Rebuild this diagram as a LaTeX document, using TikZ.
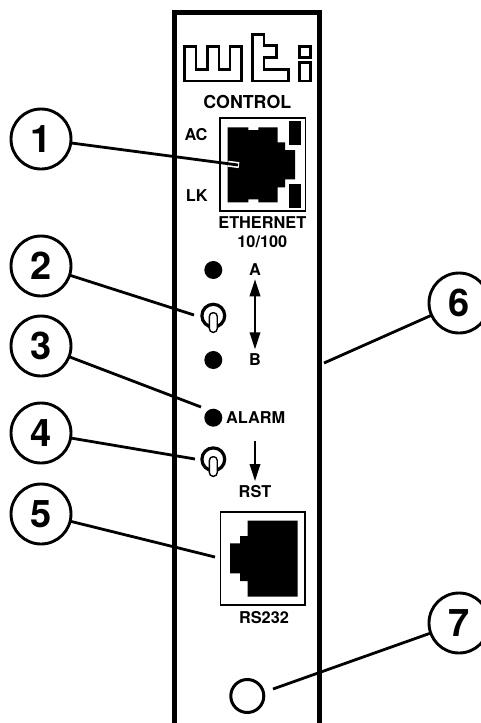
\documentclass[tikz,border=0pt]{standalone}
\usepackage{fontspec}
\setmainfont{TeX Gyre Heros}
\usetikzlibrary{arrows.meta}
\tikzset{
  x=1pt,y=-1pt,
  callout/.style={circle,draw=black,line width=2.9pt,minimum size=60pt,inner sep=0pt,outer sep=0pt,font=\fontsize{38}{38}\selectfont\bfseries},
  leader/.style={line width=2.8pt,black},
  wall/.style={line width=5.4pt,black},
  logoline/.style={line width=2.7pt,black,line join=miter},
  portbox/.style={line width=1.6pt,black},
  solidpart/.style={fill=black,draw=none},
  lamp/.style={circle,fill=black,minimum size=18pt,inner sep=0pt,outer sep=0pt},
  lbl/.style={inner sep=0pt,font=\fontsize{16.3}{16.3}\selectfont\bfseries},
  bigtip/.style={-{Triangle[length=17pt,width=10.5pt]}},
  shaft/.style={line width=1.9pt,black},
}
\begin{document}
\begin{tikzpicture}
\useasboundingbox (0,0) rectangle (480,723);
% panel
\draw[wall,line join=miter] (174.3,723) -- (174.3,12.5) -- (319.2,12.5) -- (319.2,723);
% logo
\draw[logoline] (184.7,46.3) -- (196,46.3) -- (196,69.3) -- (207.3,69.3) -- (207.3,46.3) -- (219,46.3) -- (219,69.3) -- (230,69.3) -- (230,46.3) -- (241.3,46.3) -- (241.3,81) -- (184.7,81) -- cycle;
\draw[logoline] (252.7,34.3) -- (264,34.3) -- (264,45.7) -- (276.7,45.7) -- (276.7,57.3) -- (264,57.3) -- (264,69.3) -- (288.3,69.3) -- (288.3,81) -- (252.7,81) -- cycle;
\draw[logoline] (299.3,46.3) rectangle (310.7,57.3);
\draw[logoline] (299.3,62.7) rectangle (310.7,81);
\node[lbl,font=\fontsize{17.8}{17.8}\selectfont\bfseries] (control) at (247.3,101.7) {CONTROL};
% ethernet
\draw[portbox] (220,118) rectangle (305.5,211);
\fill[solidpart] (227.7,127.3) -- (248.3,127.3) -- (248.3,130) -- (258.3,130) -- (258.3,127.3) -- (277.7,127.3) -- (277.7,142.3) -- (285,142.3) -- (285,150) -- (295,150) -- (295,179.3) -- (285,179.3) -- (285,187.3) -- (277.7,187.3) -- (277.7,202.3) -- (258.3,202.3) -- (258.3,199.3) -- (248.3,199.3) -- (248.3,202.3) -- (227.7,202.3) -- cycle;
\fill[solidpart] (289,120.7) rectangle (301,144.7);
\fill[solidpart] (289,184) rectangle (301,208);
\node[lbl] (ac) at (196,135) {AC};
\node[lbl] (lk) at (196.7,195.7) {LK};
\node[lbl] (eth) at (262.3,222.3) {ETHERNET};
\node[lbl] (speed) at (262.3,241.7) {10/100};
% lamps
\node[lamp] (la) at (213.3,270) {};
\node[lamp] (lb) at (213.3,360) {};
\node[lamp] (lalarm) at (213.3,417.7) {};
\node[lbl] (ta) at (255,270) {A};
\node[lbl] (tb) at (255,360) {B};
\node[lbl,anchor=west] (talarm) at (226,417.3) {ALARM};
\node[lbl] (trst) at (255,492) {RST};
% switches
\draw[line width=3.2pt] (213.3,315.7) circle (11.4);
\draw[line width=1.4pt,fill=white,rounded corners=3.6pt] (209.4,312.7) rectangle (217.2,332.3);
\draw[line width=3.2pt] (213.3,459.3) circle (11.4);
\draw[line width=1.4pt,fill=white,rounded corners=3.6pt] (209.4,456.7) rectangle (217.2,476.3);
% arrows
\coordinate (atop) at (255,279.3);
\coordinate (abot) at (255,349.3);
\coordinate (rtop) at (255,441);
\coordinate (rbot) at (255,481);
\draw[shaft,{Triangle[length=17pt,width=10.5pt]}-{Triangle[length=17pt,width=10.5pt]}] (atop) -- (abot);
\draw[shaft,bigtip] (rtop) -- (rbot);
% rs232
\draw[portbox] (220.4,511.7) rectangle (305,605);
\fill[solidpart] (247.7,520.7) -- (297.7,520.7) -- (297.7,596.7) -- (247.7,596.7) -- (247.7,581) -- (240,581) -- (240,573.3) -- (230,573.3) -- (230,543.3) -- (240,543.3) -- (240,536) -- (247.7,536) -- cycle;
\node[lbl] (rs) at (264,618) {RS232};
% foot hole
\node[circle,draw=black,line width=3pt,minimum size=33pt,inner sep=0pt,outer sep=0pt] (hole) at (247.3,696) {};
% callouts
\node[callout] (n1) at (41,139) {1};
\node[callout] (n2) at (41,266) {2};
\node[callout] (n3) at (41,346) {3};
\node[callout] (n4) at (41,433) {4};
\node[callout] (n5) at (41,514) {5};
\node[callout] (n6) at (459,303) {6};
\node[callout] (n7) at (459,623) {7};
\coordinate (t1) at (238,165);
\coordinate (h1) at (228,163.7);
\coordinate (h2) at (239,165.13);
\coordinate (t2) at (194,315);
\coordinate (t3) at (201,407);
\coordinate (t4) at (195,459);
\coordinate (t5) at (215,557);
\coordinate (t6) at (324,363);
\coordinate (t7) at (273,689);
\draw[white,line width=6pt] (h1) -- (h2);
\draw[leader] (n1) -- (t1);
\draw[leader] (n2) -- (t2);
\draw[leader] (n3) -- (t3);
\draw[leader] (n4) -- (t4);
\draw[leader] (n5) -- (t5);
\draw[leader] (n6) -- (t6);
\draw[leader] (n7) -- (t7);
\end{tikzpicture}
\end{document}
